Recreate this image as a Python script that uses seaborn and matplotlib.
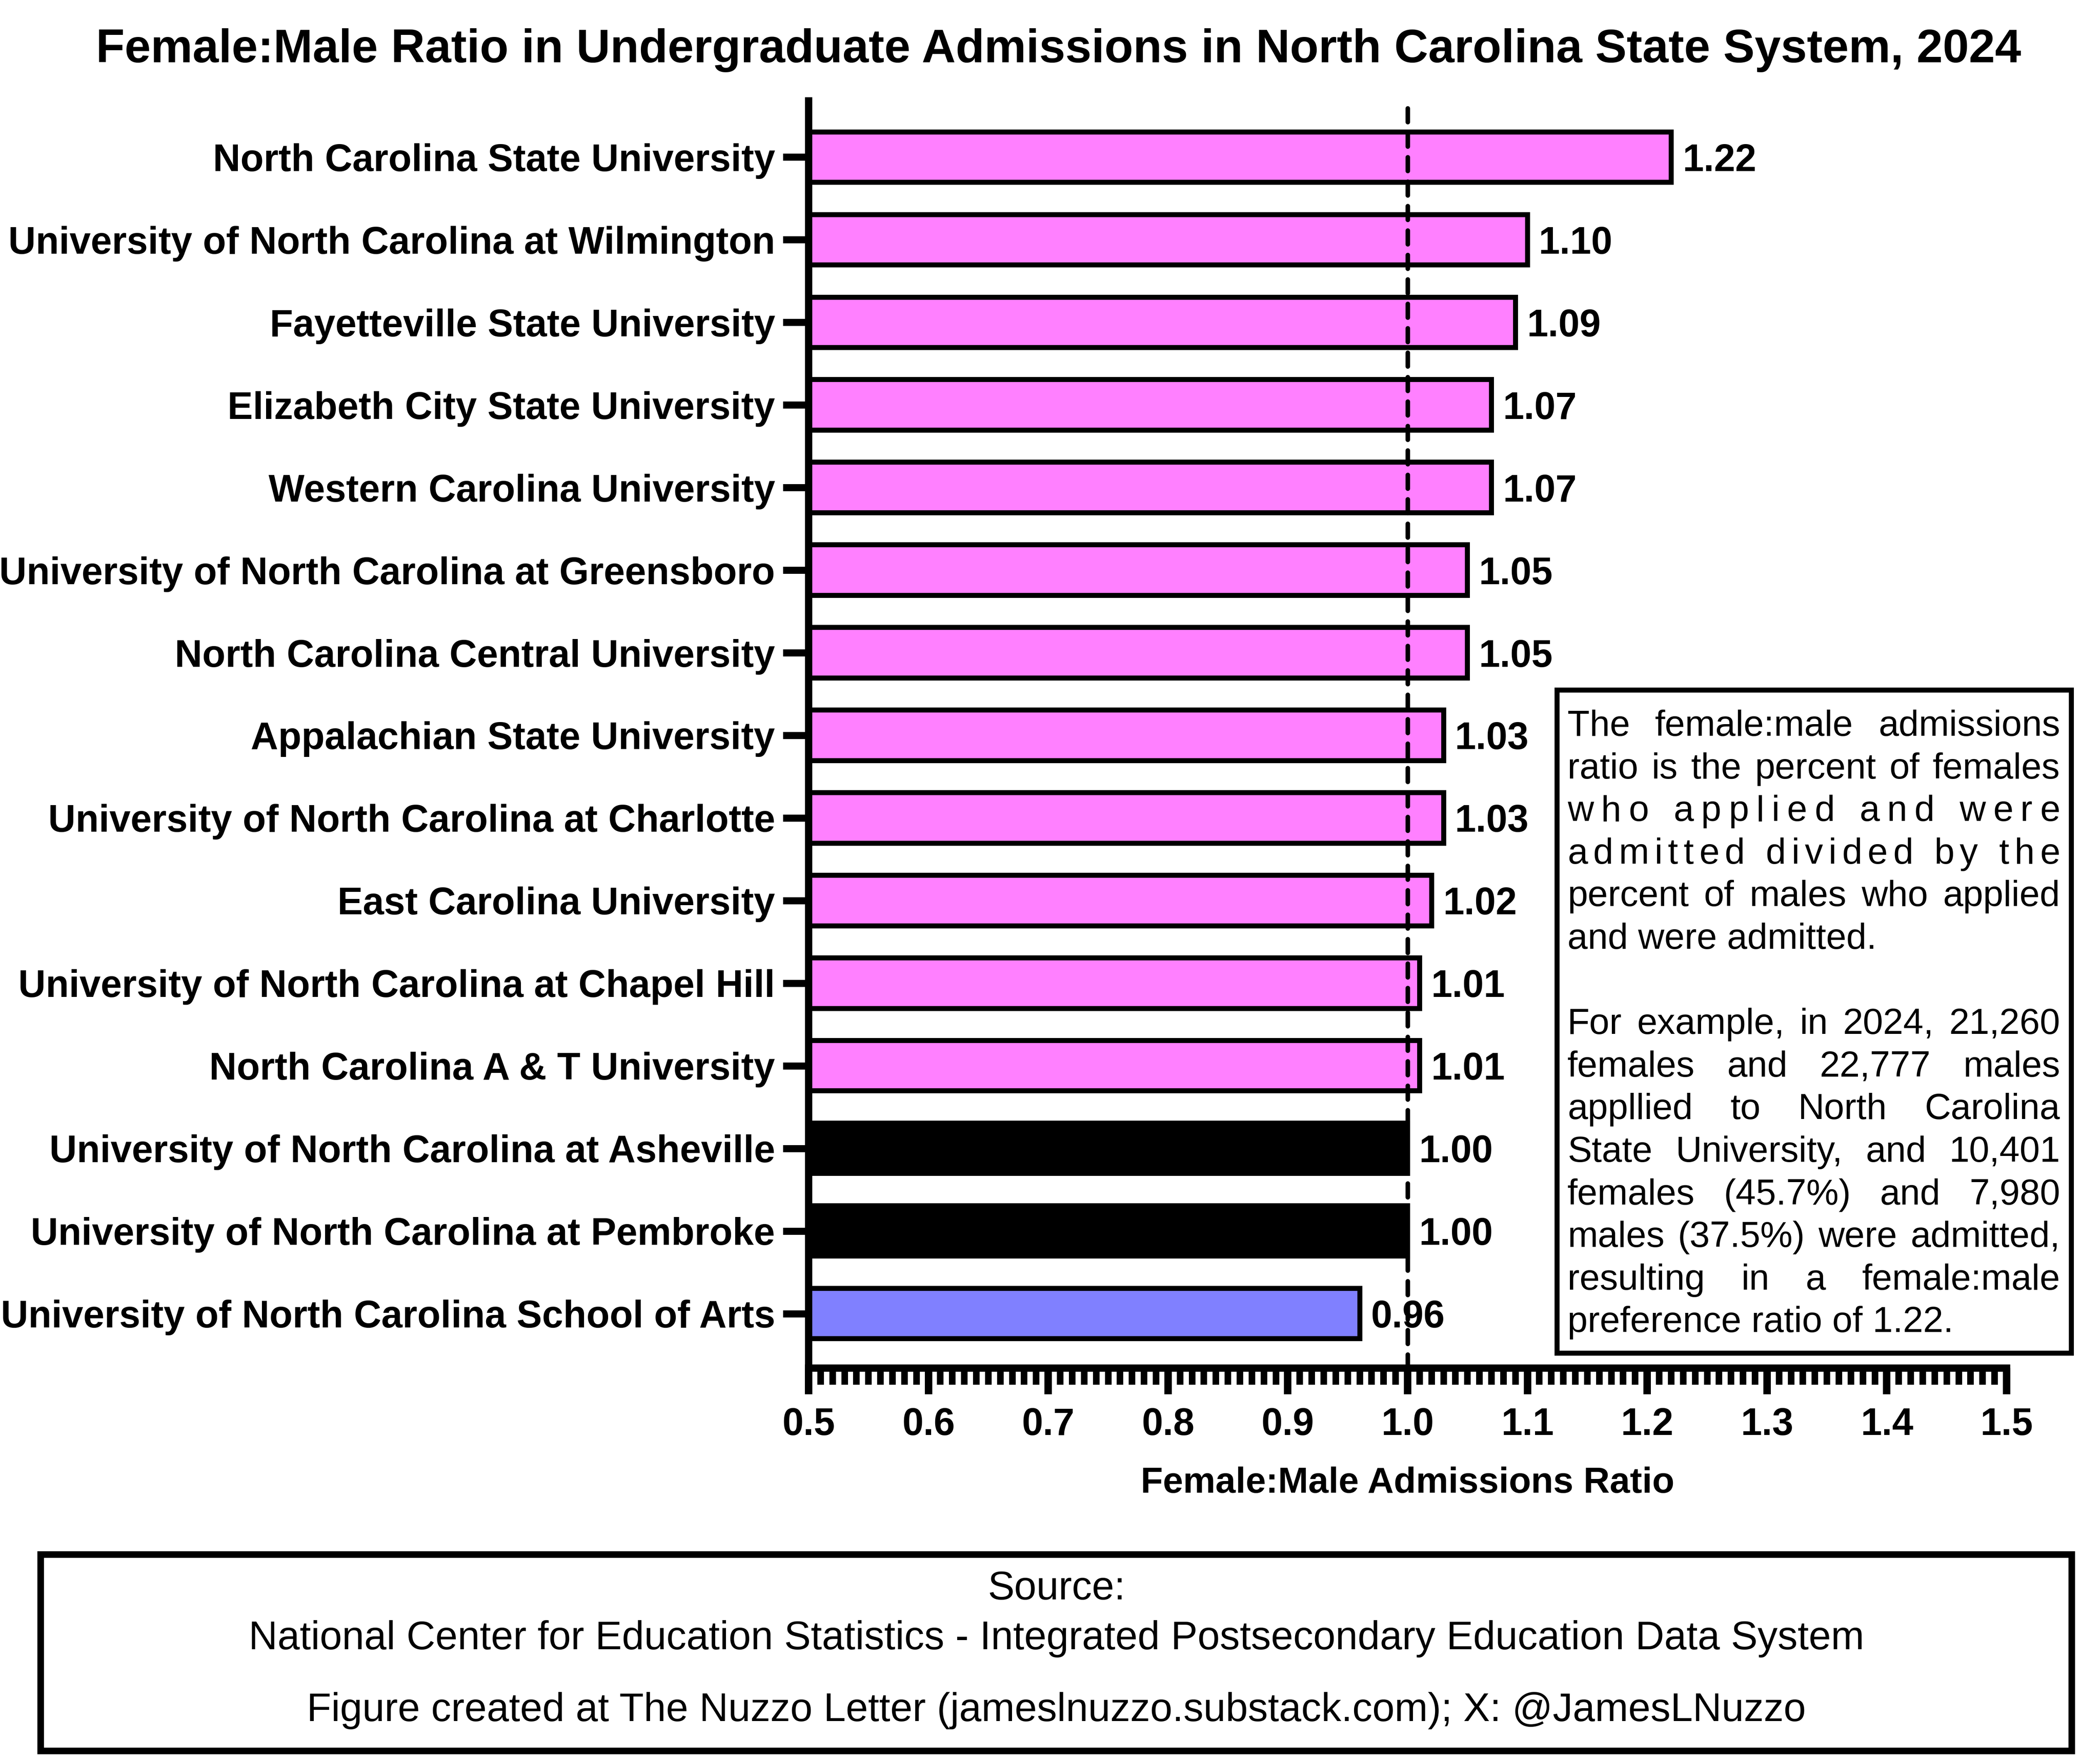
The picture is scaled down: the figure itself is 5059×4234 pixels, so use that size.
import matplotlib
matplotlib.use("Agg")
import matplotlib.pyplot as plt
import matplotlib.patches as mpatches
from matplotlib.ticker import MultipleLocator, FormatStrFormatter
import pandas as pd
import seaborn as sns

# data
schools = [
    "North Carolina State University",
    "University of North Carolina at Wilmington",
    "Fayetteville State University",
    "Elizabeth City State University",
    "Western Carolina University",
    "University of North Carolina at Greensboro",
    "North Carolina Central University",
    "Appalachian State University",
    "University of North Carolina at Charlotte",
    "East Carolina University",
    "University of North Carolina at Chapel Hill",
    "North Carolina A & T University",
    "University of North Carolina at Asheville",
    "University of North Carolina at Pembroke",
    "University of North Carolina School of Arts",
]
ratios = [1.22, 1.10, 1.09, 1.07, 1.07, 1.05, 1.05, 1.03, 1.03, 1.02,
          1.01, 1.01, 1.00, 1.00, 0.96]

title = "Female:Male Ratio in Undergraduate Admissions in North Carolina State System, 2024"
x_label = "Female:Male Admissions Ratio"

# (text, mode) -> mode: "word" justify, "char" letter-spaced justify, "left" last line
note_lines = [
    ("The female:male admissions", "word"),
    ("ratio is the percent of females", "word"),
    ("who applied and were", "char"),
    ("admitted divided by the", "char"),
    ("percent of males who applied", "word"),
    ("and were admitted.", "left"),
    ("", "left"),
    ("For example, in 2024, 21,260", "word"),
    ("females and 22,777 males", "word"),
    ("appllied to North Carolina", "word"),
    ("State University, and 10,401", "word"),
    ("females (45.7%) and 7,980", "word"),
    ("males (37.5%) were admitted,", "word"),
    ("resulting in a female:male", "word"),
    ("preference ratio of 1.22.", "left"),
]

source_lines = [
    "Source:",
    "National Center for Education Statistics - Integrated Postsecondary Education Data System",
    "Figure created at The Nuzzo Letter (jameslnuzzo.substack.com); X: @JamesLNuzzo",
]

PINK, BLACK, BLUE = "#FF80FF", "#000000", "#8080FF"
colors = [PINK if r > 1 else (BLACK if r == 1 else BLUE) for r in ratios]

sns.set_style("ticks")
plt.rcParams['font.family'] = ['Liberation Sans', 'DejaVu Sans']
plt.rcParams['text.color'] = 'black'
plt.rcParams['axes.labelcolor'] = 'black'
plt.rcParams['xtick.color'] = 'black'
plt.rcParams['ytick.color'] = 'black'

W, H = 5059, 4234
DPI = 300


def fx(px):
    return px / W


def fy(py):
    return 1 - py / H


fig = plt.figure(figsize=(W / DPI, H / DPI), dpi=DPI)
ax = fig.add_axes([fx(1948), fy(3295), (4834 - 1948) / W, (3295 - 243) / H])

df = pd.DataFrame({"school": schools, "ratio": ratios})
sns.barplot(data=df, x="ratio", y="school", hue="school", order=schools,
            palette=dict(zip(schools, colors)), saturation=1, legend=False,
            edgecolor="black", linewidth=2.9, width=0.61, ax=ax, zorder=2)

for c in ax.containers:
    for t in ax.bar_label(c, fmt="%.2f", padding=6.5, fontsize=22,
                          fontweight="bold", color="black"):
        t.set_va("center_baseline")

ax.axvline(1.0, color="black", lw=2.64, linestyle=(0, (3.0, 2.35)),
           dash_capstyle="round", zorder=3)

ax.set_xlim(0.5, 1.5)
ax.set_ylim(14.66, -0.68)
ax.xaxis.set_major_locator(MultipleLocator(0.1))
ax.xaxis.set_minor_locator(MultipleLocator(0.01))
ax.xaxis.set_major_formatter(FormatStrFormatter("%.1f"))

sns.despine(ax=ax)
for side in ["left", "bottom"]:
    ax.spines[side].set_linewidth(4.2)
    ax.spines[side].set_color("black")

ax.tick_params(axis="x", which="major", length=15.1, width=4.3, pad=7.4,
               labelsize=22, color="black", labelcolor="black")
ax.tick_params(axis="x", which="minor", length=9.6, width=3.8, color="black")
ax.tick_params(axis="y", which="major", length=14.9, width=4.1, pad=4.5,
               labelsize=22, color="black", labelcolor="black")
for lab in ax.get_xticklabels() + ax.get_yticklabels():
    lab.set_fontweight("bold")

ax.set_ylabel("")
ax.set_xlabel(x_label, fontsize=21, fontweight="bold", color="black")
ax.xaxis.set_label_coords(0.5, -(3595 - 3295) / (3295 - 243))
ax.xaxis.label.set_va("baseline")

# title
fig.text(fx(2550), fy(150), title, ha="center", va="baseline",
         fontsize=27.2, fontweight="bold")

# explanatory note box
fig.add_artist(mpatches.Rectangle((fx(3751), fy(3259)), (4990 - 3751) / W,
                                  (3259 - 1662) / H, transform=fig.transFigure,
                                  facecolor="white", edgecolor="black", lw=2.9))

renderer = fig.canvas.get_renderer()
note_kw = dict(fontsize=21, ha="left", va="baseline", zorder=5)


def ink_width(s):
    t = fig.text(0, 0, s, fontsize=21)
    w = t.get_window_extent(renderer).width
    t.remove()
    return w


left_px, right_px = 3776, 4963
base0, step = 1772, 102.6
aw = ink_width("a")
inner_gap = ink_width("aa") - 2 * aw
word_gap = ink_width("a a") - 2 * aw

for k, (line, mode) in enumerate(note_lines):
    if not line:
        continue
    yb = fy(base0 + k * step)
    if mode == "left":
        fig.text(fx(left_px), yb, line, **note_kw)
    elif mode == "word":
        words = line.split()
        widths = [ink_width(w) for w in words]
        gap = (right_px - left_px - sum(widths)) / (len(words) - 1)
        x = left_px
        for w, wd in zip(words, widths):
            fig.text(fx(x), yb, w, **note_kw)
            x += wd + gap
    else:
        words = line.split()
        cw = [[ink_width(ch) for ch in w] for w in words]
        n_inner = sum(len(w) - 1 for w in words)
        n_word = len(words) - 1
        total = sum(sum(c) for c in cw) + n_inner * inner_gap + n_word * word_gap
        extra = (right_px - left_px - total) / (n_inner + 2 * n_word)
        x = left_px
        for w, c in zip(words, cw):
            for ci, (ch, wd) in enumerate(zip(w, c)):
                fig.text(fx(x), yb, ch, **note_kw)
                x += wd
                if ci < len(w) - 1:
                    x += inner_gap + extra
            x += word_gap + 2 * extra

# source box
fig.add_artist(mpatches.Rectangle((fx(98), fy(4217)), (4991 - 98) / W,
                                  (4217 - 3744) / H, transform=fig.transFigure,
                                  facecolor="white", edgecolor="black", lw=3.8))
for yb, line in zip([3852, 3972, 4145], source_lines):
    fig.text(fx(2545), fy(yb), line, ha="center", va="baseline", fontsize=23.1, zorder=5)

fig.savefig("out.png", dpi=DPI)
